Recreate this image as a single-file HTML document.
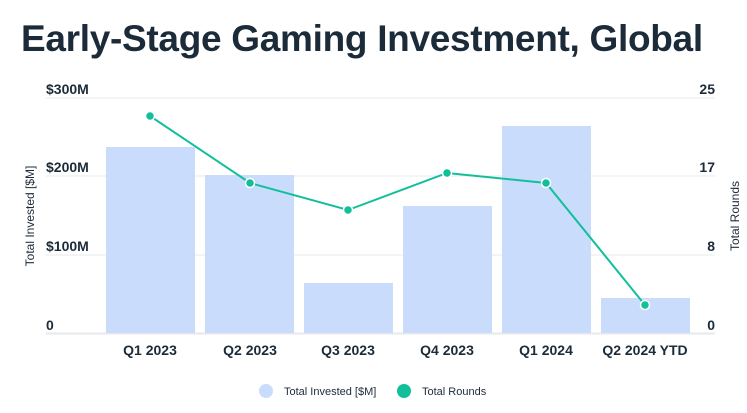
<!DOCTYPE html>
<html><head><style>
body{margin:0;background:#fff;width:747px;height:408px;overflow:hidden;font-family:"Liberation Sans",sans-serif}
</style></head><body>
<svg width="747" height="408" xmlns="http://www.w3.org/2000/svg" font-family="Liberation Sans, sans-serif">
<text x="21" y="51" font-size="37" font-weight="bold" fill="#1c2b39" letter-spacing="-0.3">Early-Stage Gaming Investment, Global</text>
<g stroke="#e6e8ec" stroke-width="1">
<line x1="46" y1="98" x2="715" y2="98"/><line x1="46" y1="176" x2="715" y2="176"/><line x1="46" y1="255" x2="715" y2="255"/>
</g>
<line x1="46" y1="333.5" x2="715" y2="333.5" stroke="#e6e8ec" stroke-width="2"/>
<g fill="#1c2b39" font-size="14" font-weight="bold">
<text x="46" y="94">$300M</text><text x="46" y="172">$200M</text><text x="46" y="251">$100M</text><text x="46" y="330">0</text>
<text x="715" y="94" text-anchor="end">25</text><text x="715" y="172" text-anchor="end">17</text><text x="715" y="251" text-anchor="end">8</text><text x="715" y="330" text-anchor="end">0</text>
</g>
<text transform="translate(34,216) rotate(-90)" text-anchor="middle" font-size="12" fill="#1c2b39">Total Invested [$M]</text>
<text transform="translate(739,216) rotate(-90)" text-anchor="middle" font-size="12" fill="#1c2b39">Total Rounds</text>
<g fill="#cadcfc">
<rect x="106" y="147" width="89" height="186"/>
<rect x="205" y="175" width="89" height="158"/>
<rect x="304" y="283" width="89" height="50"/>
<rect x="403" y="206" width="89" height="127"/>
<rect x="502" y="126" width="89" height="207"/>
<rect x="601" y="298" width="89" height="35"/>
</g>
<polyline points="150,116 250,183 348,210 447,173 546,183 645,305" fill="none" stroke="#12bf9b" stroke-width="2"/>
<g fill="#12bf9b" stroke="#fff" stroke-width="1.5">
<circle cx="150" cy="116" r="4.5"/><circle cx="250" cy="183" r="4.5"/><circle cx="348" cy="210" r="4.5"/><circle cx="447" cy="173" r="4.5"/><circle cx="546" cy="183" r="4.5"/><circle cx="645" cy="305" r="4.5"/>
</g>
<g fill="#1c2b39" font-size="14" font-weight="bold" text-anchor="middle">
<text x="150" y="355">Q1 2023</text><text x="250" y="355">Q2 2023</text><text x="348" y="355">Q3 2023</text><text x="447" y="355">Q4 2023</text><text x="546" y="355">Q1 2024</text><text x="645" y="355">Q2 2024 YTD</text>
</g>
<circle cx="266" cy="391" r="7" fill="#cadcfc"/>
<text x="284" y="395" font-size="11" fill="#1c2b39">Total Invested [$M]</text>
<circle cx="404" cy="391" r="7" fill="#12bf9b"/>
<text x="422" y="395" font-size="11" fill="#1c2b39">Total Rounds</text>
</svg>
</body></html>
